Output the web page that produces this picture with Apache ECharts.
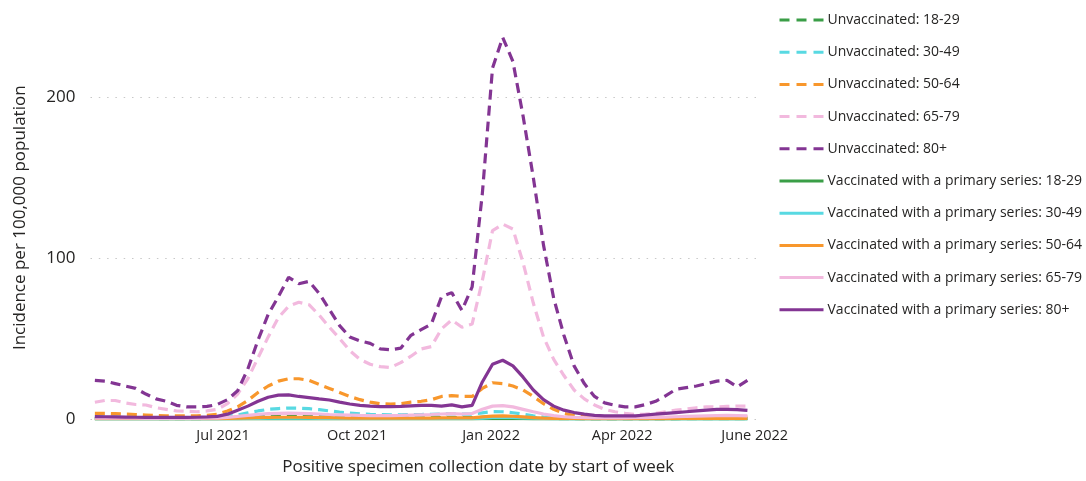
<!DOCTYPE html>
<html>
<head>
<meta charset="utf-8">
<script src="https://cdn.jsdelivr.net/npm/echarts@6/dist/echarts.min.js"></script>
<style>html,body{margin:0;padding:0;background:#fff}#c{width:1086px;height:481px}</style>
</head>
<body>
<div id="c"></div>
<script>
const weeks = ['2021-04-04','2021-04-11','2021-04-18','2021-04-25','2021-05-02','2021-05-09','2021-05-16','2021-05-23','2021-05-30','2021-06-06','2021-06-13','2021-06-20','2021-06-27','2021-07-04','2021-07-11','2021-07-18','2021-07-25','2021-08-01','2021-08-08','2021-08-15','2021-08-22','2021-08-29','2021-09-05','2021-09-12','2021-09-19','2021-09-26','2021-10-03','2021-10-10','2021-10-17','2021-10-24','2021-10-31','2021-11-07','2021-11-14','2021-11-21','2021-11-28','2021-12-05','2021-12-12','2021-12-19','2021-12-26','2022-01-02','2022-01-09','2022-01-16','2022-01-23','2022-01-30','2022-02-06','2022-02-13','2022-02-20','2022-02-27','2022-03-06','2022-03-13','2022-03-20','2022-03-27','2022-04-03','2022-04-10','2022-04-17','2022-04-24','2022-05-01','2022-05-08','2022-05-15','2022-05-22','2022-05-29','2022-06-05','2022-06-12','2022-06-19','2022-06-26'];

const unvax18_29 = [0.4,0.4,0.4,0.3,0.3,0.3,0.3,0.2,0.2,0.2,0.2,0.3,0.3,0.5,0.8,1.1,1.4,1.6,1.7,1.7,1.6,1.5,1.3,1.1,1.0,0.9,0.8,0.7,0.7,0.6,0.6,0.7,0.7,0.7,0.8,0.8,0.8,0.8,1.0,1.2,1.2,1.0,0.8,0.6,0.4,0.3,0.2,0.2,0.1,0.1,0.1,0.1,0.1,0.1,0.1,0.1,0.1,0.1,0.2,0.2,0.2,0.2,0.2,0.2,0.2];
const unvax30_49 = [1.3,1.3,1.2,1.1,1.0,0.9,0.8,0.7,0.7,0.7,0.7,0.8,1.0,1.6,2.5,3.8,5.0,6.0,6.5,6.8,6.7,6.4,5.8,5.0,4.3,3.7,3.2,2.9,2.7,2.6,2.6,2.7,2.8,2.9,3.1,3.2,3.0,3.0,3.8,4.6,4.5,3.9,3.0,2.0,1.2,0.8,0.5,0.4,0.4,0.3,0.3,0.3,0.3,0.3,0.3,0.3,0.3,0.4,0.4,0.4,0.4,0.4,0.4,0.4,0.4];
const unvax50_64 = [3.5,3.5,3.3,3.0,2.8,2.5,2.2,2.0,2.0,2.0,2.0,2.3,3.0,5.0,7.5,11.5,16.5,20.5,23.5,25.0,25.0,24.0,21.5,19.0,16.5,14.0,12.0,10.5,9.5,9.3,9.5,10.5,11.0,12.0,14.0,14.5,14.0,14.0,19.0,22.5,22.0,20.5,18.0,14.0,9.5,6.0,3.5,2.2,1.5,1.2,1.0,0.9,0.8,0.8,0.8,0.8,0.9,0.9,1.0,1.0,1.1,1.1,1.2,1.2,1.2];
const unvax65_79 = [10.4,11.5,11.5,10.0,9.0,8.7,7.0,6.0,5.0,4.8,4.5,5.0,6.0,9.5,15.5,25.0,38.0,51.0,63.0,70.0,72.5,71.0,64.5,57.0,50.0,42.5,37.0,34.0,32.5,32.0,35.0,39.0,43.5,45.0,56.0,61.5,57.0,59.0,86.0,117.0,121.0,118.0,97.0,72.0,51.0,37.0,27.0,18.0,12.5,8.7,6.0,4.5,3.5,2.8,3.0,3.5,4.5,5.5,6.2,7.0,7.5,7.5,7.8,8.0,8.0];
const unvax80 = [24.0,23.5,22.0,20.5,19.0,15.5,12.5,11.0,8.5,7.5,7.5,7.8,9.0,12.0,17.5,31.0,49.0,65.0,76.0,88.0,84.0,85.5,78.0,68.0,58.0,51.0,48.5,47.0,43.5,43.0,44.0,52.0,55.5,59.0,76.0,78.5,67.5,82.0,140.0,218.0,237.0,222.0,188.0,150.0,108.0,75.0,52.0,33.0,22.0,14.0,10.0,8.5,7.5,7.5,9.0,11.0,14.5,18.5,19.5,20.5,22.0,23.5,24.0,20.0,24.0];
const vax18_29 = [0.05,0.05,0.05,0.05,0.05,0.05,0.05,0.05,0.05,0.05,0.05,0.05,0.05,0.05,0.1,0.1,0.1,0.1,0.1,0.1,0.1,0.1,0.1,0.1,0.1,0.1,0.1,0.1,0.1,0.1,0.1,0.1,0.1,0.1,0.1,0.1,0.1,0.1,0.15,0.2,0.2,0.2,0.15,0.1,0.1,0.05,0.05,0.05,0.05,0.05,0.05,0.05,0.05,0.05,0.05,0.05,0.05,0.05,0.05,0.05,0.05,0.05,0.05,0.05,0.05];
const vax30_49 = [0.1,0.1,0.1,0.1,0.1,0.1,0.1,0.1,0.1,0.1,0.1,0.1,0.1,0.15,0.2,0.3,0.4,0.5,0.5,0.5,0.5,0.5,0.4,0.4,0.3,0.3,0.3,0.3,0.3,0.3,0.3,0.3,0.3,0.3,0.3,0.3,0.3,0.3,0.6,1.0,1.1,1.0,0.7,0.5,0.3,0.2,0.15,0.1,0.1,0.1,0.1,0.1,0.1,0.1,0.1,0.1,0.1,0.1,0.1,0.1,0.1,0.1,0.1,0.1,0.1];
const vax50_64 = [0.2,0.2,0.2,0.2,0.2,0.2,0.2,0.2,0.2,0.2,0.2,0.2,0.2,0.3,0.5,0.7,0.9,1.0,1.1,1.1,1.1,1.0,0.9,0.8,0.7,0.6,0.6,0.6,0.6,0.6,0.6,0.6,0.6,0.6,0.7,0.7,0.7,0.7,1.3,1.8,1.9,1.7,1.3,0.9,0.6,0.4,0.3,0.3,0.2,0.2,0.2,0.2,0.2,0.2,0.2,0.2,0.2,0.3,0.3,0.3,0.3,0.3,0.3,0.3,0.3];
const vax65_79 = [0.6,0.6,0.5,0.5,0.5,0.4,0.4,0.4,0.4,0.4,0.4,0.5,0.6,1.0,1.6,2.3,2.9,3.3,3.5,3.6,3.5,3.3,3.1,2.8,2.6,2.4,2.2,2.1,2.1,2.1,2.2,2.4,2.6,2.8,3.1,3.3,3.1,3.4,6.0,8.0,8.3,7.5,6.0,4.5,3.1,2.1,1.4,1.0,0.8,0.7,0.7,0.7,0.7,0.8,0.9,1.0,1.2,1.4,1.6,1.8,2.0,2.1,2.2,2.1,2.0];
const vax80 = [1.5,1.4,1.3,1.2,1.1,1.0,1.0,1.0,1.0,1.0,1.1,1.3,1.6,3.0,5.5,8.0,11.0,13.5,14.8,15.0,14.0,13.3,12.5,11.8,10.5,9.3,8.5,8.0,7.7,7.7,7.8,8.2,8.5,8.5,8.0,8.8,7.5,8.5,23.0,34.0,36.5,33.0,26.0,18.0,12.0,8.0,5.5,4.0,3.0,2.3,2.0,1.9,1.9,2.0,2.5,3.0,3.5,4.0,4.5,5.0,5.5,6.0,6.0,5.8,5.3];

const tickDates = ['2021-07-01','2021-10-01','2022-01-01','2022-04-01','2022-07-01'];
const tickLabels = ['Jul 2021','Oct 2021','Jan 2022','Apr 2022','June 2022'];
const yTicks = [0, 100, 200];

const seriesNames = ['Unvaccinated: 18-29','Unvaccinated: 30-49','Unvaccinated: 50-64','Unvaccinated: 65-79','Unvaccinated: 80+',
  'Vaccinated with a primary series: 18-29','Vaccinated with a primary series: 30-49','Vaccinated with a primary series: 50-64','Vaccinated with a primary series: 65-79','Vaccinated with a primary series: 80+'];
const seriesValues = [unvax18_29, unvax30_49, unvax50_64, unvax65_79, unvax80, vax18_29, vax30_49, vax50_64, vax65_79, vax80];
const colors = ['#3a9e47','#58d9e2','#f8972c','#f2b9de','#833593','#3a9e47','#58d9e2','#f8972c','#f2b9de','#833593'];

function ts(s){ const p = s.split('-'); return Date.UTC(+p[0], +p[1]-1, +p[2]); }
const tickTs = tickDates.map(ts);
const FONT = '"Segoe UI", "Open Sans", sans-serif';

const chart = echarts.init(document.getElementById('c'), null, {renderer: 'canvas'});
chart.setOption({
  animation: false,
  textStyle: { fontFamily: FONT },
  grid: { left: 90.5, right: 324, top: 16.5, bottom: 62, containLabel: false },
  legend: {
    orient: 'vertical', left: 778, top: 13, padding: 0,
    itemWidth: 44, itemHeight: 14, itemGap: 18.2,
    itemStyle: { opacity: 0, color: 'rgba(0,0,0,0)', borderWidth: 0 },
    lineStyle: { width: 3 },
    textStyle: { fontSize: 14, color: '#252423', fontFamily: FONT, padding: [0,0,0,-1] },
    data: seriesNames.map(function (n, k) {
      return { name: n, lineStyle: { width: 3, color: colors[k], type: k < 5 ? [10, 7] : 'solid' } };
    })
  },
  xAxis: {
    type: 'value',
    min: ts('2021-04-01'), max: ts('2022-07-06'),
    name: 'Positive specimen collection date by start of week',
    nameLocation: 'middle', nameGap: 40,
    nameTextStyle: { fontSize: 17, color: '#252423', padding: [0,0,0,104] },
    axisLine: { show: false }, axisTick: { show: false },
    splitLine: { show: false },
    axisLabel: {
      customValues: tickTs,
      fontSize: 14.5, color: '#252423', margin: 9,
      formatter: function (v) { const i = tickTs.indexOf(v); return i >= 0 ? tickLabels[i] : ''; }
    }
  },
  yAxis: {
    type: 'value', min: 0, max: 250, interval: 100,
    name: 'Incidence per 100,000 population',
    nameLocation: 'middle', nameGap: 62,
    nameTextStyle: { fontSize: 17, color: '#252423' },
    axisLine: { show: false }, axisTick: { show: false },
    axisLabel: { fontSize: 17, color: '#252423', margin: 15, showMaxLabel: false,
      formatter: function (v) { return yTicks.indexOf(v) >= 0 ? String(v) : ''; } },
    splitLine: { show: true, showMaxLine: false, lineStyle: { color: '#c8c8c8', width: 1, type: [1.5, 6.8] } }
  },
  series: seriesNames.map(function (name, k) {
    return {
      name: name, type: 'line', symbol: 'none', showSymbol: false,
      data: weeks.map(function (d, i) { return [ts(d), seriesValues[k][i]]; }),
      color: colors[k],
      lineStyle: { width: 3.2, color: colors[k], type: k < 5 ? [10, 6] : 'solid' },
      emphasis: { disabled: true }
    };
  })
});
</script>
</body>
</html>
